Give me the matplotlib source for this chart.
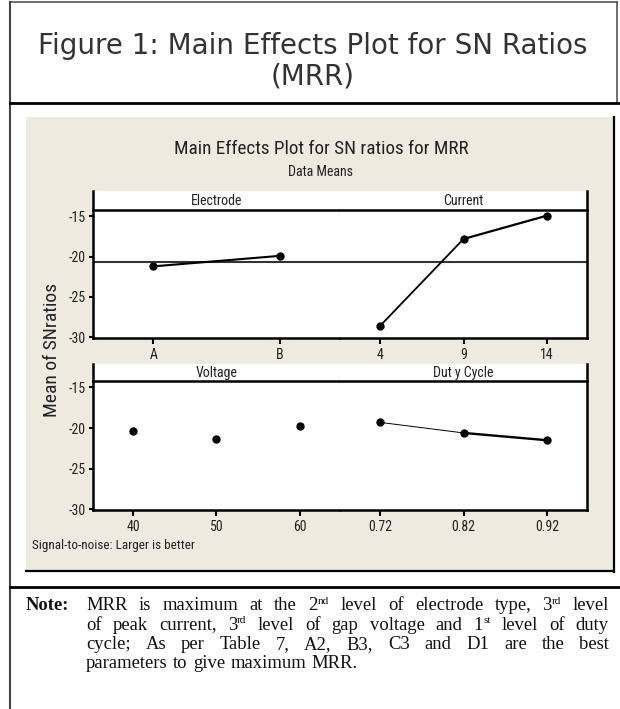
import matplotlib
matplotlib.use('Agg')
import matplotlib.pyplot as plt
from matplotlib import font_manager
from matplotlib.patches import Rectangle
from matplotlib.lines import Line2D

# ---------------- data ----------------
electrode_levels = ['A', 'B']
electrode_sn = [-21.2, -19.9]
current_levels = ['4', '9', '14']
current_sn = [-28.6, -17.8, -14.9]
voltage_levels = ['40', '50', '60']
voltage_sn = [-20.4, -21.3, -19.7]
duty_levels = ['0.72', '0.82', '0.92']
duty_sn = [-19.3, -20.6, -21.5]
overall_mean = -20.7
y_ticks = [-15, -20, -25, -30]

W, H = 620, 709
fig = plt.figure(figsize=(W / 100, H / 100), dpi=100)
fig.patch.set_facecolor('white')

def R(x0, y0, x1, y1):
    return [x0 / W, 1 - y1 / H, (x1 - x0) / W, (y1 - y0) / H]
def X(x):
    return x / W
def Y(y):
    return 1 - y / H

fl = font_manager.fontManager.ttflist
names = {f.name for f in fl}
narrow = None
narrow_stretch = 'normal'
for cand in ['Liberation Sans Narrow', 'Arial Narrow', 'DejaVu Sans Condensed', 'Roboto Condensed']:
    if cand in names:
        narrow = cand
        break
if narrow is None:
    if any(f.name == 'DejaVu Sans' and f.stretch == 'condensed' for f in fl):
        narrow = 'DejaVu Sans'
        narrow_stretch = 'condensed'
    else:
        narrow = 'Liberation Sans'
serif = 'Liberation Serif'
NF = dict(family=narrow, stretch=narrow_stretch)
TC = '#222222'

def fline(xs, ys, **kw):
    fig.add_artist(Line2D([X(v) for v in xs], [Y(v) for v in ys],
                          transform=fig.transFigure, **kw))

# outer frame
fline([10, 617], [2, 2], color='#555555', lw=1.2)
fline([10, 10], [2, 708], color='#444444', lw=1.5)
fline([617, 617], [2, 103], color='#555555', lw=1.2)
fline([10, 620], [103, 103], color='black', lw=2)
fline([10, 620], [587, 587], color='black', lw=2)

# figure caption
fig.text(X(313), Y(46), 'Figure 1: Main Effects Plot for SN Ratios', ha='center', va='center',
         fontsize=20, color='#333333', family='DejaVu Sans')
fig.text(X(313), Y(77), '(MRR)', ha='center', va='center',
         fontsize=20, color='#333333', family='DejaVu Sans')

# beige panel
fig.add_artist(Rectangle((X(26), Y(571)), (613 - 26) / W, (571 - 117) / H,
                         transform=fig.transFigure, facecolor='#EEEAE0', edgecolor='none',
                         zorder=-10))
fline([614, 614], [117, 572], color='black', lw=1.6)
fline([26, 614], [571, 571], color='black', lw=1.6)

fig.text(X(321), Y(149), 'Main Effects Plot for SN ratios for MRR', ha='center', va='center',
         fontsize=13.8, color=TC, **NF)
fig.text(X(320), Y(172), 'Data Means', ha='center', va='center',
         fontsize=10, color=TC, **NF)
fig.text(X(52), Y(350), 'Mean of SNratios', ha='center', va='center', rotation=90,
         fontsize=14, color=TC, **NF)
fig.text(X(32), Y(546), 'Signal-to-noise: Larger is better', ha='left', va='center',
         fontsize=9.5, color=TC, **NF)

panels = [
    ('Electrode', electrode_levels, electrode_sn, 0, 0, [1.5], True),
    ('Current', current_levels, current_sn, 0, 1, [1.3, 1.6], True),
    ('Voltage', voltage_levels, voltage_sn, 1, 0, [0, 0], False),
    ('Dut y Cycle', duty_levels, duty_sn, 1, 1, [0.7, 1.7], False),
]
rows = [(191, 210, 338), (364, 381, 510)]
cols = [(93, 340), (340, 587)]
spw = 1.8

for name, levels, vals, r, c, seg_lw, meanline in panels:
    st, pt, pb = rows[r]
    x0, x1 = cols[c]
    # strip
    sax = fig.add_axes(R(x0, st, x1, pt))
    sax.set_facecolor('white')
    sax.set_xticks([]); sax.set_yticks([])
    for s in sax.spines.values():
        s.set_visible(False)
    if c == 0:
        sax.spines['left'].set_visible(True); sax.spines['left'].set_linewidth(spw)
    else:
        sax.spines['right'].set_visible(True); sax.spines['right'].set_linewidth(spw)
    sax.text(0.5, 0.45, name, transform=sax.transAxes, ha='center', va='center',
             fontsize=10, color=TC, **NF)
    # plot
    ax = fig.add_axes(R(x0, pt, x1, pb))
    ax.set_facecolor('white')
    n = len(levels)
    xs = list(range(1, n + 1))
    ax.set_xlim(0.52, n + 0.48)
    ax.set_ylim(-30.1, -14.2)
    if meanline:
        ax.axhline(overall_mean, color='#333333', lw=1.5, zorder=1)
    for k in range(n - 1):
        if seg_lw[k] > 0:
            ax.plot(xs[k:k + 2], vals[k:k + 2], color='black', lw=seg_lw[k], zorder=2)
    ax.plot(xs, vals, color='black', lw=0, marker='o', markersize=5,
            zorder=3, clip_on=False)
    for k in ['top', 'bottom', 'left', 'right']:
        ax.spines[k].set_linewidth(spw)
    ax.spines['left'].set_visible(c == 0)
    ax.spines['right'].set_visible(c == 1)
    ax.set_xticks(xs)
    ax.set_xticklabels(levels, fontsize=10, color=TC, **NF)
    ax.tick_params(axis='x', direction='out', length=4, width=1.5, pad=3)
    if c == 0:
        ax.set_yticks(y_ticks)
        ax.set_yticklabels([str(v) for v in y_ticks], fontsize=10, color=TC, **NF)
        ax.tick_params(axis='y', direction='out', length=3, width=1.5, pad=2)
    else:
        ax.set_yticks([])

# ---------------- justified note ----------------
renderer = fig.canvas.get_renderer()
fs = 13.4
sup_fs = 8.0

def seg_width(txt, size, weight='normal'):
    t = fig.text(0, 0, txt, fontsize=size, family=serif, weight=weight)
    w = t.get_window_extent(renderer).width
    t.remove()
    return w

def tok(word):
    if '^' in word:
        a, b = word.split('^')
        return [(a, False), (b, True)]
    return [(word, False)]

def tok_width(segs, weight='normal'):
    return sum(seg_width(s, sup_fs if sup else fs, weight) for s, sup in segs)

space_w = seg_width('a a', fs) - seg_width('aa', fs)

lines = [
    "MRR is maximum at the 2^nd level of electrode type, 3^rd level",
    "of peak current, 3^rd level of gap voltage and 1^st level of duty",
    "cycle; As per Table 7, A2, B3, C3 and D1 are the best",
    "parameters to give maximum MRR.",
]
line_y = [610, 629.5, 649, 668.5]
left_x, right_x = 86, 609

fig.text(X(26), Y(line_y[0]), 'Note:', fontsize=fs, family=serif, weight='bold',
         va='baseline', color='#111111')

for i, ln in enumerate(lines):
    words = [tok(w) for w in ln.split(' ')]
    widths = [tok_width(w) for w in words]
    total = sum(widths)
    if i < len(lines) - 1:
        gap = (right_x - left_x - total) / (len(words) - 1)
    else:
        gap = space_w * 1.15
    x = left_x
    for segs, w in zip(words, widths):
        xx = x
        for s, sup in segs:
            if sup:
                fig.text(X(xx), Y(line_y[i] - 6.5), s, fontsize=sup_fs, family=serif,
                         va='baseline', color='#111111')
                xx += seg_width(s, sup_fs)
            else:
                fig.text(X(xx), Y(line_y[i]), s, fontsize=fs, family=serif,
                         va='baseline', color='#111111')
                xx += seg_width(s, fs)
        x += w + gap

fig.savefig('out.png', dpi=100, facecolor='white')
